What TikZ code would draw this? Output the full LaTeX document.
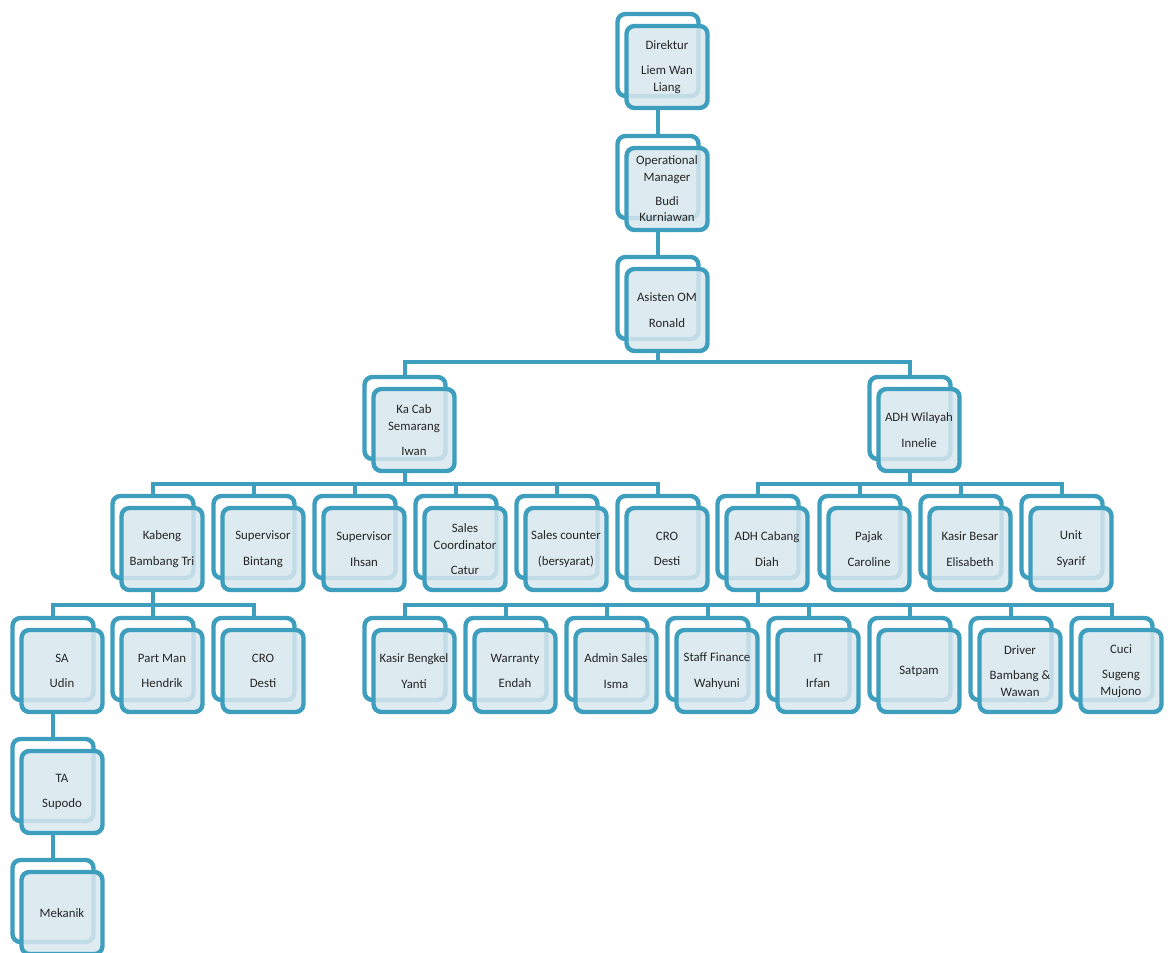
\documentclass[tikz,border=0pt]{standalone}
\usepackage{fontspec}
\setmainfont{Carlito}
\usetikzlibrary{positioning}

\definecolor{cardline}{RGB}{62,158,190}
\definecolor{cardfill}{RGB}{216,231,238}

\begin{document}
\begin{tikzpicture}[
    x=0.02cm, y=-0.02cm,
    card/.style={
        rectangle,
        rounded corners=4.5pt,
        draw=cardline,
        line width=2.5pt,
        minimum width=1.62cm,
        minimum height=1.64cm,
        inner sep=1pt
    },
    backcard/.style={card, fill=white},
    frontcard/.style={
        card,
        fill=cardfill,
        fill opacity=0.85,
        text opacity=1,
        align=center,
        text=black!85,
        font=\fontsize{7.3}{9.5}\selectfont
    },
    link/.style={draw=cardline, line width=2.5pt}
]
\useasboundingbox (0,0) rectangle (1170,953);

% cards: name / x / y / text
\foreach \n/\x/\y/\t in {
    dir/658/55/{Direktur\\[5pt]Liem Wan\\Liang},
    om/658/177/{Operational\\Manager\\[4pt]Budi\\Kurniawan},
    asom/658/298/{Asisten OM\\[5pt]Ronald},
    kacab/405/418/{Ka Cab\\Semarang\\[5pt]Iwan},
    adhw/910/418/{ADH Wilayah\\[5pt]Innelie},
    kabeng/153/537/{Kabeng\\[5pt]Bambang Tri},
    spvb/254/537/{Supervisor\\[5pt]Bintang},
    spvi/355/537/{Supervisor\\[5pt]Ihsan},
    salesco/456/537/{Sales\\Coordinator\\[5pt]Catur},
    salescnt/557/537/{Sales counter\\[5pt](bersyarat)},
    cro/658/537/{CRO\\[5pt]Desti},
    adhc/758/537/{ADH Cabang\\[5pt]Diah},
    pajak/860/537/{Pajak\\[5pt]Caroline},
    kasirb/961/537/{Kasir Besar\\[5pt]Elisabeth},
    unit/1062/537/{Unit\\[5pt]Syarif},
    sa/53/659/{SA\\[5pt]Udin},
    partman/153/659/{Part Man\\[5pt]Hendrik},
    crob/254/659/{CRO\\[5pt]Desti},
    kasirbk/405/659/{Kasir Bengkel\\[5pt]Yanti},
    warranty/506/659/{Warranty\\[5pt]Endah},
    admsales/607/659/{Admin Sales\\[5pt]Isma},
    stafffin/708/659/{Staff Finance\\[5pt]Wahyuni},
    it/809/659/{IT\\[5pt]Irfan},
    satpam/910/659/{Satpam},
    driver/1011/659/{Driver\\[5pt]Bambang \&\\Wawan},
    cuci/1112/659/{Cuci\\[5pt]Sugeng\\Mujono},
    ta/53/780/{TA\\[5pt]Supodo},
    mekanik/53/901/{Mekanik}}{
    \node[backcard] (\n-b) at (\x,\y) {};
    \node[frontcard] (\n) at ([shift={(9,12)}]\n-b) {\t};
}

% bus lines
\coordinate (bus3) at (0,362);
\coordinate (bus4) at (0,484);
\coordinate (bus5) at (0,605);

% top chain
\draw[link] (dir.south -| dir-b.north) -- (om-b.north);
\draw[link] (om.south -| om-b.north) -- (asom-b.north);

\draw[link] (asom.south -| asom-b.north) -- (bus3 -| asom-b.north);
\foreach \c in {kacab, adhw}
    \draw[link] (bus3 -| asom-b.north) -| (\c-b.north);

\draw[link] (kacab.south -| kacab-b.north) -- (bus4 -| kacab-b.north);
\foreach \c in {kabeng, spvb, spvi, salesco, salescnt, cro}
    \draw[link] (bus4 -| kacab-b.north) -| (\c-b.north);

\draw[link] (adhw.south -| adhw-b.north) -- (bus4 -| adhw-b.north);
\foreach \c in {adhc, pajak, kasirb, unit}
    \draw[link] (bus4 -| adhw-b.north) -| (\c-b.north);

\draw[link] (kabeng.south -| kabeng-b.north) -- (bus5 -| kabeng-b.north);
\foreach \c in {sa, partman, crob}
    \draw[link] (bus5 -| kabeng-b.north) -| (\c-b.north);

\draw[link] (adhc.south -| adhc-b.north) -- (bus5 -| adhc-b.north);
\foreach \c in {kasirbk, warranty, admsales, stafffin, it, satpam, driver, cuci}
    \draw[link] (bus5 -| adhc-b.north) -| (\c-b.north);

\draw[link] (sa.south -| sa-b.north) -- (ta-b.north);
\draw[link] (ta.south -| ta-b.north) -- (mekanik-b.north);

\end{tikzpicture}
\end{document}
